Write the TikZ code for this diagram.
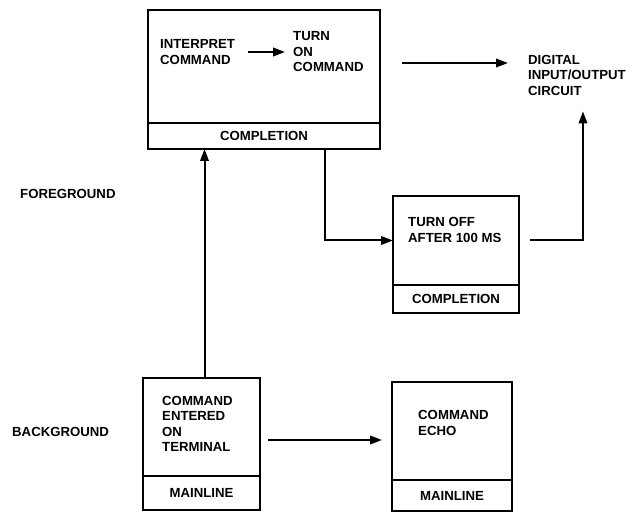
\documentclass[tikz,border=0pt]{standalone}
\usepackage{fontspec}
\setmainfont{Liberation Sans}
\usetikzlibrary{positioning}
\usetikzlibrary{arrows.meta}

\begin{document}
\begin{tikzpicture}[
    x=1pt, y=-1pt,
    font=\fontsize{13.2}{15.5}\selectfont\bfseries,
    block/.style={rectangle,draw,line width=2pt,outer sep=0pt},
    txt/.style={anchor=west,align=left,inner sep=0pt},
    arrow/.style={-{Triangle[length=12pt,width=8.5pt]},line width=2pt}
]
\useasboundingbox (0,0) rectangle (632,513);

\node[block,minimum width=232,minimum height=113] (fgbox) at (264,66.5) {};
\node[block,minimum width=232,minimum height=26,below=0pt of fgbox] (fgdone) {COMPLETION};
\node[txt] (interp) at (160,52) {INTERPRET\\COMMAND};
\node[txt] (turnon) at (293,52) {TURN\\ON\\COMMAND};
\node[txt] (digital) at (528,75) {DIGITAL\\INPUT/OUTPUT\\CIRCUIT};
\coordinate (fgout) at (402,63);

\node[block,minimum width=126,minimum height=89] (offbox) at (456,240.5) {};
\node[block,minimum width=126,minimum height=28,below=0pt of offbox] (offdone) {COMPLETION};
\node[txt] (turnoff) at (408,230) {TURN OFF\\AFTER 100 MS};

\node[block,minimum width=117,minimum height=98] (cmdbox) at (201.5,427) {};
\node[block,minimum width=117,minimum height=34,below=0pt of cmdbox] (cmddone) {MAINLINE};
\node[txt] (cmd) at (162,424) {COMMAND\\ENTERED\\ON\\TERMINAL};

\node[block,minimum width=120,minimum height=98] (echobox) at (452,431) {};
\node[block,minimum width=120,minimum height=31,below=0pt of echobox] (echodone) {MAINLINE};
\node[txt] (echo) at (418,423) {COMMAND\\ECHO};

\node[txt] (fgname) at (20,194) {FOREGROUND};
\node[txt] (bgname) at (12,432) {BACKGROUND};

\draw[arrow] ([xshift=13pt]interp.east) -- ([xshift=-8pt]turnon.west);
\draw[arrow] (fgout) -- ([xshift=-20pt]fgout -| digital.west);
\draw[arrow] ([xshift=3pt]cmdbox.north) -- ([xshift=3pt]cmdbox.north |- fgdone.south);
\draw[arrow] ([xshift=61pt]fgdone.south) |- (offbox.west);
\draw[arrow] ([xshift=11pt]offbox.east) -| ([shift={(6,16)}]digital.south);
\draw[arrow] ([shift={(8,13)}]cmdbox.east) -- ([shift={(-10,13)}]cmdbox.east -| echobox.west);
\end{tikzpicture}
\end{document}
